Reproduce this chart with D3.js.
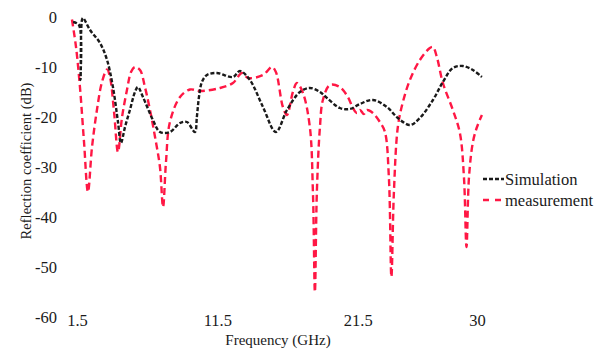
<!DOCTYPE html>
<html>
<head>
<meta charset="utf-8">
<script src="https://cdn.jsdelivr.net/npm/d3@7"></script>
<style>
  body { margin: 0; background: #fff; }
</style>
</head>
<body>
<svg width="603" height="349"></svg>
<script>
// frequency in GHz, reflection coefficient in dB
const simFreq = [1.22, 1.64, 1.75, 1.86, 1.93, 2.43, 3.14, 3.64, 4.06, 4.42, 4.63, 4.92, 5.27, 5.63, 5.84,
  6.20, 6.91, 7.41, 8.12, 8.84, 9.33, 9.90, 10.04, 10.19, 10.40, 10.76, 11.47, 12.61, 13.11, 13.82,
  14.75, 15.67, 16.46, 17.38, 18.09, 18.81, 19.31, 20.23, 20.94, 21.66, 22.58, 23.58, 24.36, 25.22,
  25.93, 26.86, 27.57, 28.28, 28.99, 29.71, 30.35];
const simDb = [-1, -1.6, -12.6, -0.5, -0.2, -2.6, -5.2, -8.6, -14, -21, -25.2, -22, -18.6, -15, -14,
  -16, -20.6, -23, -23, -21.2, -21, -23, -20, -16, -13, -11.6, -11.2, -12, -10.8, -12.6,
  -18, -23, -18.6, -15, -14.2, -15, -16.2, -18.2, -18.4, -17.4, -16.6, -18, -20.2, -21.6,
  -20.2, -16.6, -13, -10.2, -9.8, -10.6, -12];

const measFreq = [1.14, 1.43, 1.71, 2.00, 2.28, 2.57, 2.92, 3.28, 3.64, 3.85, 4.14, 4.42, 4.71, 5.06,
  5.35, 5.63, 5.99, 6.34, 6.70, 7.06, 7.41, 7.63, 7.84, 8.12, 8.84, 9.55, 10.26, 11.69, 12.61, 13.25,
  13.68, 14.75, 15.39, 15.67, 16.17, 16.46, 16.88, 17.17, 17.60, 18.09, 18.31, 18.45, 18.59, 18.81,
  19.02, 19.52, 20.23, 20.80, 21.16, 21.44, 21.66, 21.94, 22.16, 22.58, 23.08, 23.44, 23.72, 23.90,
  24.08, 24.36, 24.72, 25.22, 25.93, 26.64, 26.86, 27.14, 27.57, 28.28, 28.78, 29.07, 29.25, 29.43,
  29.71, 30.00, 30.35];
const measDb = [-0.5, -6, -14, -25, -35, -26, -18.6, -13, -10.5, -12, -19, -27, -20, -14.6,
  -11, -10, -10.6, -14, -18.6, -24, -30, -38, -29, -21, -16, -14.5, -14.8, -14.2, -13.2, -11.2,
  -12.2, -11.6, -10, -11, -18, -19.6, -15, -13.2, -15.2, -22, -35, -55, -35, -22,
  -16.6, -13.6, -14, -16, -18.2, -19.2, -18.6, -19.4, -18.6, -19.2, -21, -23, -32, -52,
  -35, -22, -17, -12.6, -8.6, -6.2, -6, -8, -13.2, -18.6, -23.2, -32, -46, -32,
  -25, -22, -19.6];

const xTicks = [1.5, 11.5, 21.5, 30];
const yTicks = [0, -10, -20, -30, -40, -50, -60];
const seriesNames = ['Simulation', 'measurement'];

const serif = 'Liberation Serif';
const svg = d3.select('svg');
const x = d3.scaleLinear().domain([1.5, 30]).range([77, 477]);
const y = d3.scaleLinear().domain([0, -60]).range([17, 317]);

const simulation = simFreq.map((f, i) => ({ f, db: simDb[i] }));
const measurement = measFreq.map((f, i) => ({ f, db: measDb[i] }));

// y axis labels (no axis line), plain hyphen minus like the original
const axisY = d3.axisLeft(y).tickValues(yTicks).tickSize(0).tickPadding(0).tickFormat(d => String(d));
svg.append('g')
    .attr('transform', 'translate(57,0)')
  .call(axisY)
  .attr('font-family', serif)
  .attr('font-size', 16.5)
  .call(g => g.select('.domain').remove())
  .selectAll('text')
    .attr('fill', '#1a1a1a');

// x axis labels
const axisX = d3.axisBottom(x).tickValues(xTicks).tickSize(0).tickPadding(0).tickFormat(d => String(d));
svg.append('g')
    .attr('transform', 'translate(0,314)')
  .call(axisX)
  .attr('font-family', serif)
  .attr('font-size', 16.5)
  .call(g => g.select('.domain').remove())
  .selectAll('text')
    .attr('fill', '#1a1a1a');

svg.append('text')
    .text('Frequency (GHz)')
    .attr('x', 278)
    .attr('y', 345)
    .attr('text-anchor', 'middle')
    .attr('font-family', serif)
    .attr('font-size', 15)
    .attr('fill', '#1a1a1a');

svg.append('text')
    .text('Reflection coefficient (dB)')
    .attr('transform', 'translate(31,161) rotate(-90)')
    .attr('text-anchor', 'middle')
    .attr('font-family', serif)
    .attr('font-size', 14.6)
    .attr('fill', '#1a1a1a');

const line = d3.line()
  .x(d => x(d.f))
  .y(d => y(d.db))
  .curve(d3.curveCatmullRom.alpha(0.5));

svg.append('path')
    .datum(measurement)
    .attr('d', line)
    .attr('fill', 'none')
    .attr('stroke', '#ff1744')
    .attr('stroke-width', 2.4)
    .attr('stroke-dasharray', '7,4');

svg.append('path')
    .datum(simulation)
    .attr('d', line)
    .attr('fill', 'none')
    .attr('stroke', '#1a1a1a')
    .attr('stroke-width', 2.4)
    .attr('stroke-dasharray', '4,2');

// legend
const legend = svg.append('g').attr('transform', 'translate(483,179)');
const legendStyles = [
  { color: '#1a1a1a', dash: '4,2' },
  { color: '#ff1744', dash: '6,6' }
];
seriesNames.forEach((name, i) => {
  const row = legend.append('g').attr('transform', `translate(0,${i * 21})`);
  row.append('line')
      .attr('x1', 0).attr('x2', 21)
      .attr('stroke', legendStyles[i].color)
      .attr('stroke-width', 2.4)
      .attr('stroke-dasharray', legendStyles[i].dash);
  row.append('text')
      .text(name)
      .attr('x', 22)
      .attr('dy', '0.35em')
      .attr('font-family', serif)
      .attr('font-size', 16.5)
      .attr('fill', '#1a1a1a');
});
</script>
</body>
</html>
